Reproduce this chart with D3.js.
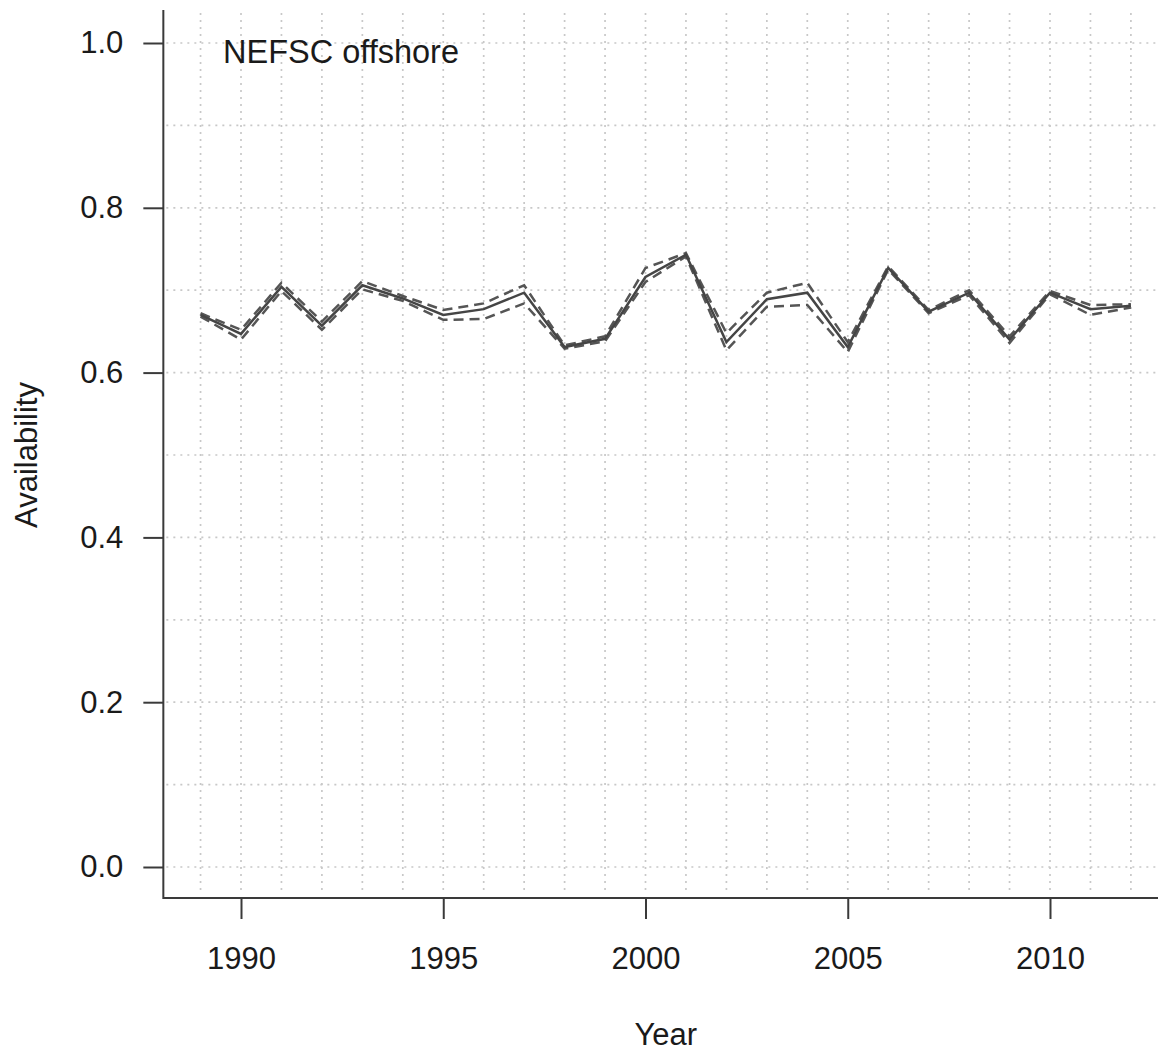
<!DOCTYPE html>
<html>
<head>
<meta charset="utf-8">
<script src="https://cdn.jsdelivr.net/npm/d3@7"></script>
<style>
  html, body { margin: 0; padding: 0; background: #fff; }
  svg { display: block; }
  text { font-family: "Liberation Sans", Arial, sans-serif; fill: #1a1a1a; }
</style>
</head>
<body>
<svg id="chart" width="1158" height="1055"></svg>
<script>
// Availability of the NEFSC offshore survey by year: estimate with lower and upper bounds
const years = [1989, 1990, 1991, 1992, 1993, 1994, 1995, 1996, 1997, 1998, 1999, 2000,
               2001, 2002, 2003, 2004, 2005, 2006, 2007, 2008, 2009, 2010, 2011, 2012];
const estimate = [0.670, 0.647, 0.704, 0.657, 0.706, 0.690, 0.670, 0.677, 0.697, 0.631, 0.641, 0.716,
                  0.743, 0.637, 0.689, 0.697, 0.631, 0.727, 0.674, 0.697, 0.640, 0.697, 0.677, 0.681];
const lower =    [0.668, 0.640, 0.699, 0.652, 0.701, 0.687, 0.664, 0.665, 0.684, 0.629, 0.638, 0.710,
                  0.741, 0.627, 0.680, 0.682, 0.625, 0.725, 0.672, 0.694, 0.636, 0.695, 0.670, 0.679];
const upper =    [0.672, 0.652, 0.709, 0.662, 0.711, 0.693, 0.676, 0.684, 0.706, 0.633, 0.644, 0.727,
                  0.745, 0.648, 0.697, 0.709, 0.637, 0.729, 0.676, 0.700, 0.644, 0.699, 0.682, 0.683];

const yTicks = [0.0, 0.2, 0.4, 0.6, 0.8, 1.0];
const xTicks = [1990, 1995, 2000, 2005, 2010];
const yGrid = d3.range(0, 11).map(i => i / 10);

const panelLabel = "NEFSC offshore";
const xTitle = "Year";
const yTitle = "Availability";

const svg = d3.select("#chart");

// Plot region extends each data range by 4% on both sides
const xMin = 1989 - 0.04 * 23, xMax = 2012 + 0.04 * 23;
const x = d3.scaleLinear().domain([1990, 2010]).range([241, 1050]);
const y = d3.scaleLinear().domain([0, 1]).range([867, 43]);
const plotLeft = x(xMin), plotRight = x(xMax);
const plotTop = 10, plotBottom = 898;

// Dotted grid
const grid = svg.append("g")
  .attr("stroke", "#c8c8c8")
  .attr("stroke-width", 1.7)
  .attr("stroke-dasharray", "2,5")
  .attr("fill", "none");

grid.selectAll("line.v").data(years).join("line")
  .attr("class", "v")
  .attr("x1", d => x(d)).attr("x2", d => x(d))
  .attr("y1", plotTop + 3).attr("y2", plotBottom - 3);

grid.selectAll("line.h").data(yGrid).join("line")
  .attr("class", "h")
  .attr("x1", plotLeft + 3).attr("x2", plotRight)
  .attr("y1", d => y(d)).attr("y2", d => y(d));

// Axes
const axisColor = "#3a3a3a";

const yAxis = svg.append("g")
  .attr("transform", `translate(${plotLeft},0)`)
  .call(d3.axisLeft(y).tickValues(yTicks).tickFormat(d3.format(".1f")).tickSize(20).tickPadding(20));
yAxis.select(".domain").remove();

const xAxis = svg.append("g")
  .attr("transform", `translate(0,${plotBottom})`)
  .call(d3.axisBottom(x).tickValues(xTicks).tickFormat(d3.format("d")).tickSize(21).tickPadding(28));
xAxis.select(".domain").remove();

svg.selectAll(".tick line").attr("stroke", axisColor).attr("stroke-width", 2);
svg.selectAll(".tick text")
  .attr("fill", "#1a1a1a")
  .style("font-family", '"Liberation Sans", Arial, sans-serif')
  .style("font-size", "31px");

svg.append("path")
  .attr("d", `M${plotLeft},${plotTop}V${plotBottom}H${1158}`)
  .attr("fill", "none")
  .attr("stroke", axisColor)
  .attr("stroke-width", 2);

// Series lines
const lineGen = vals => d3.line()
  .x((d, i) => x(years[i]))
  .y(d => y(d))(vals);

const series = svg.append("g").attr("fill", "none").attr("stroke-linejoin", "miter");

series.append("path")
  .attr("d", lineGen(lower))
  .attr("stroke", "#555")
  .attr("stroke-width", 2.5)
  .attr("stroke-dasharray", "10,6");

series.append("path")
  .attr("d", lineGen(upper))
  .attr("stroke", "#555")
  .attr("stroke-width", 2.5)
  .attr("stroke-dasharray", "10,6");

series.append("path")
  .attr("d", lineGen(estimate))
  .attr("stroke", "#454545")
  .attr("stroke-width", 2.5);

// Labels
svg.append("text")
  .attr("x", 223).attr("y", 63)
  .style("font-size", "32.5px")
  .text(panelLabel);

svg.append("text")
  .attr("x", (plotLeft + plotRight) / 2).attr("y", 1045)
  .attr("text-anchor", "middle")
  .style("font-size", "31px")
  .text(xTitle);

svg.append("text")
  .attr("transform", `translate(37,${(y(0) + y(1)) / 2}) rotate(-90)`)
  .attr("text-anchor", "middle")
  .style("font-size", "31px")
  .text(yTitle);
</script>
</body>
</html>
